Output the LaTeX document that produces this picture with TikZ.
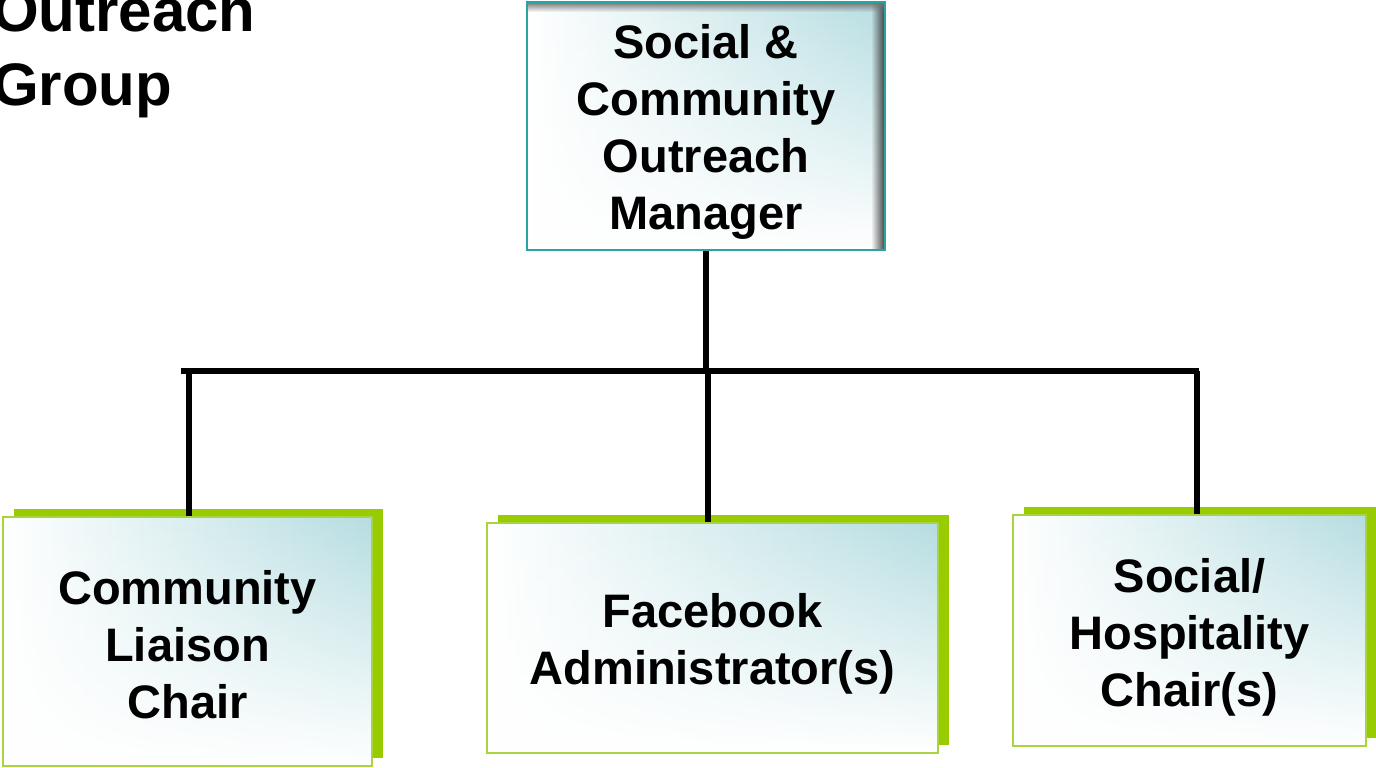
\documentclass[tikz,border=0pt]{standalone}
\usepackage{fontspec}
\setmainfont{Liberation Sans}
\usetikzlibrary{shadows,fadings,calc}
\definecolor{tealfill}{HTML}{B6DDE1}
\definecolor{tealborder}{HTML}{2AA3A3}
\definecolor{shgreen}{HTML}{99CC00}
\definecolor{boxgreen}{HTML}{A8D440}
\tikzfading[name=myfadeup, top color=transparent!100, middle color=transparent!80, bottom color=transparent!0]
\tikzfading[name=myfaderight, left color=transparent!100, right color=transparent!0]
\tikzfading[name=myfadedown, top color=transparent!0, bottom color=transparent!100]
\begin{document}
\begin{tikzpicture}[x=1pt,y=-1pt,
  lbl/.style={font=\fontsize{47}{57}\selectfont\bfseries, align=center, inner sep=0pt},
  ttl/.style={font=\fontsize{60}{72}\selectfont\bfseries, inner sep=0pt, anchor=base west},
  chairbox/.style={draw=boxgreen, line width=1.3pt, inner sep=0pt,
    left color=white, middle color=tealfill!50, right color=tealfill,
    general shadow={fill=shgreen, shadow xshift=11pt, shadow yshift=8pt},
    path picture={\fill[white, path fading=myfadeup] (path picture bounding box.south west) rectangle (path picture bounding box.north east);}},
  mgrbox/.style={draw=tealborder, line width=1.5pt, inner sep=0pt,
    left color=white, middle color=tealfill!50, right color=tealfill,
    path picture={
      \fill[white, path fading=myfadeup] (path picture bounding box.south west) rectangle (path picture bounding box.north east);
      \fill[black!75, path fading=myfaderight] ($(path picture bounding box.north east)+(-14,0)$) rectangle (path picture bounding box.south east);
      \fill[black!55, path fading=myfadedown] (path picture bounding box.north west) rectangle ($(path picture bounding box.north east)+(0,10)$);
    }},
  conn/.style={draw=black, line width=5.5pt}
]
\useasboundingbox (0,0) rectangle (1376,768);
\clip (0,0) rectangle (1376,768);

\node[ttl] (t1) at (-8,32) {Outreach};
\node[ttl] (t2) at (-8,105) {Group};

\node[mgrbox, minimum width=358pt, minimum height=248pt] (mgr) at (706,126) {};
\node[lbl] (mgrtxt) at ([yshift=-6pt]mgr.center) {Social \&\\Community\\Outreach\\Manager};

\node[chairbox, minimum width=369pt, minimum height=249pt] (b1) at (187.5,641.5) {};
\node[lbl] (b1txt) at ([yshift=-3pt]b1.center) {Community\\Liaison\\Chair};
\node[chairbox, minimum width=451pt, minimum height=230pt] (b2) at (712.5,638) {};
\node[lbl] (b2txt) at ([yshift=-6pt]b2.center) {Facebook\\Administrator(s)};
\node[chairbox, minimum width=353pt, minimum height=231pt] (b3) at (1189.5,630.5) {};
\node[lbl] (b3txt) at ([yshift=-7pt]b3.center) {Social/\\Hospitality\\Chair(s)};

\coordinate (barL) at (181,371);
\coordinate (barR) at (1199,371);
\draw[conn] (barL) -- (barR);
\draw[conn] (mgr.south) -- (mgr.south |- barL);
\draw[conn] ([xshift=1.5pt]b1.north) -- ([xshift=1.5pt]b1.north |- barL);
\draw[conn] ([xshift=-4.5pt]b2.north) -- ([xshift=-4.5pt]b2.north |- barL);
\draw[conn] ([xshift=7.5pt]b3.north) -- ([xshift=7.5pt]b3.north |- barL);
\end{tikzpicture}
\end{document}
